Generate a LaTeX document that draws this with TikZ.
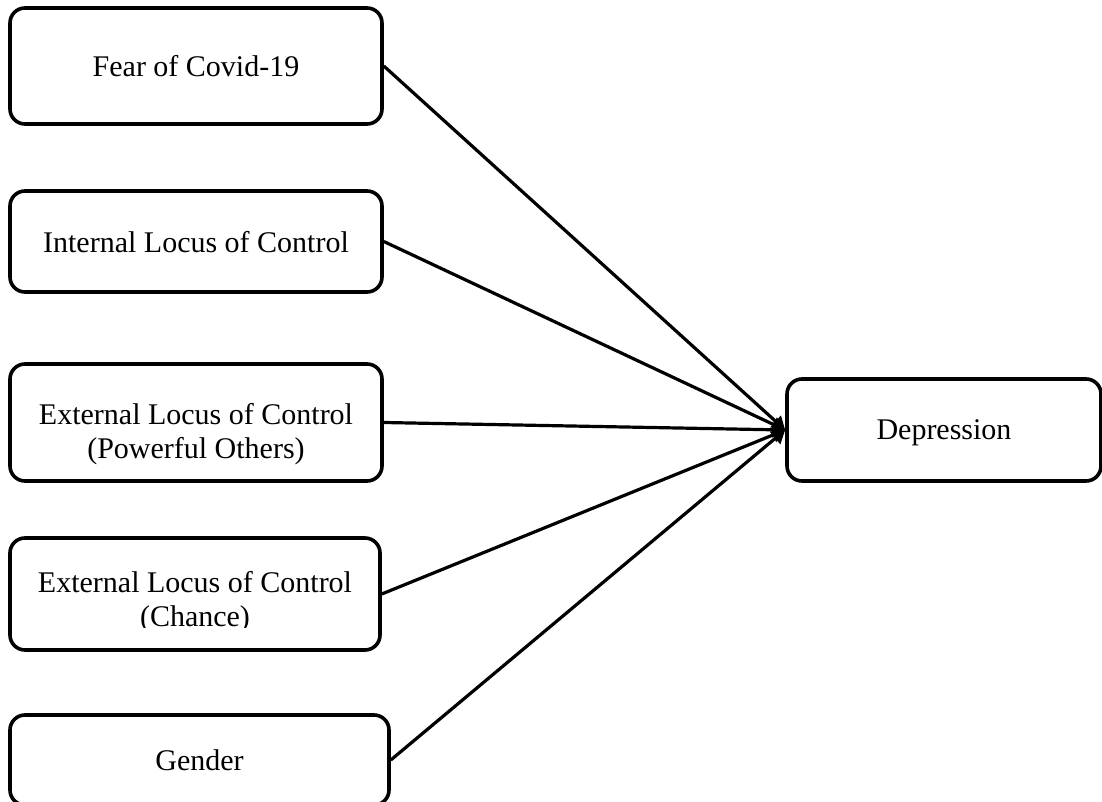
\documentclass[tikz,border=0pt]{standalone}
\usepackage{fontspec}
\setmainfont{Liberation Serif}
\usetikzlibrary{arrows.meta}
\begin{document}
\begin{tikzpicture}[x=1pt,y=-1pt,
  box/.style={draw=black, line width=3.6pt, rounded corners=15pt, inner sep=0pt,
    text depth=0pt, font=\fontsize{30}{34}\selectfont, align=center},
  lbl/.style={inner sep=0pt, font=\fontsize{30}{34}\selectfont, align=center, anchor=north},
  link/.style={line width=3.2pt, -{Triangle[length=13pt,width=15pt]}}]
\useasboundingbox (0,0) rectangle (1102,802);
\node[box, minimum width=372pt, minimum height=116pt] (fear) at (196,66) {Fear of Covid-19};
\node[box, minimum width=372pt, minimum height=101pt] (ilc) at (196,241.5) {Internal Locus of Control};
\node[box, minimum width=372pt, minimum height=117pt] (elp) at (196,422.5) {};
\node[lbl] (elpt) at (196,403.5) {External Locus of Control\\(Powerful Others)};
\node[box, minimum width=370pt, minimum height=112pt] (elc) at (195,594) {};
\begin{scope}
  \clip (20,545) rectangle (370,627);
  \node[lbl] (elct) at (195,571.5) {External Locus of Control\\(Chance)};
\end{scope}
\node[box, minimum width=379pt, minimum height=90pt] (gen) at (199.5,760) {Gender};
\node[box, minimum width=314pt, minimum height=102pt] (dep) at (944,430) {Depression};
\foreach \s in {fear,ilc,elp,elc,gen}
  \draw[link] (\s.east) -- (dep.west);
\end{tikzpicture}
\end{document}
